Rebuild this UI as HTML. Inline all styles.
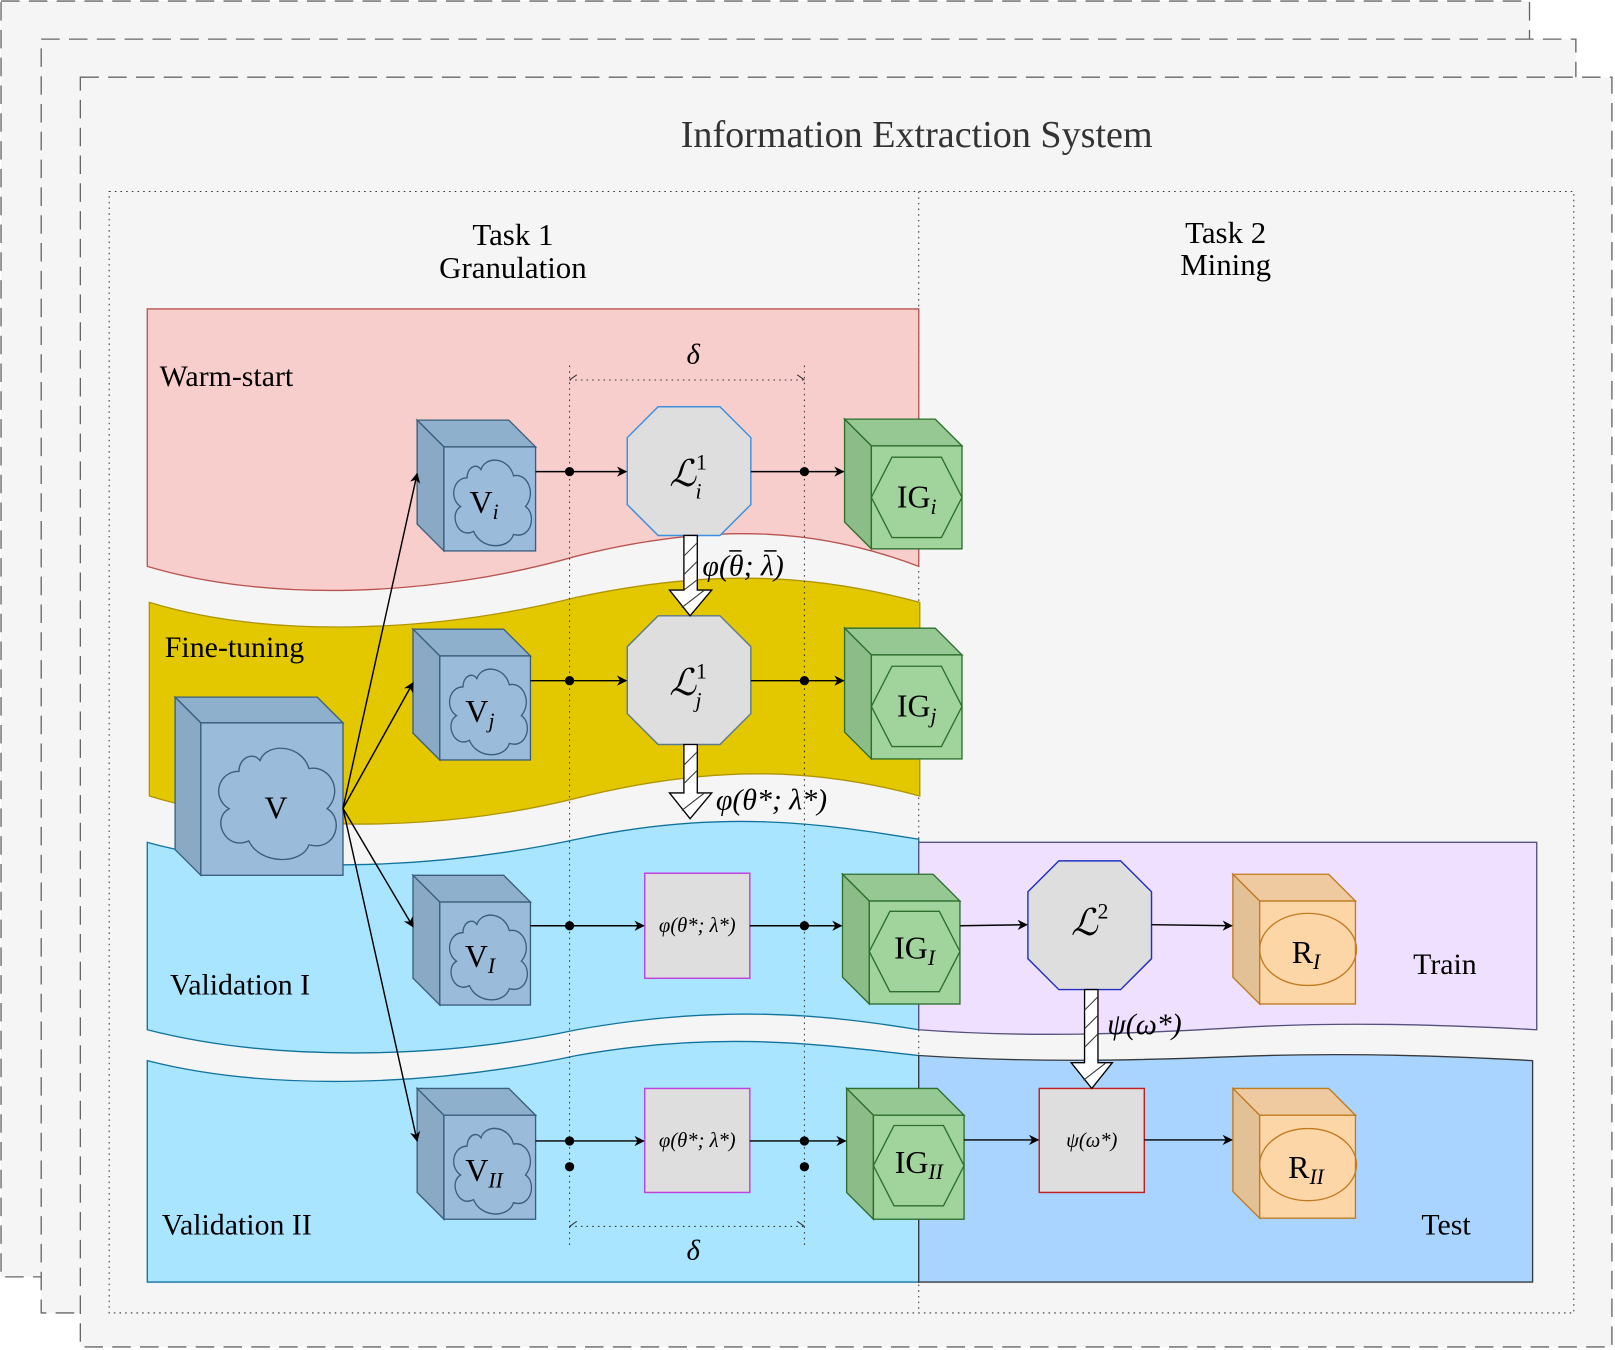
<!DOCTYPE html>
<html><head><meta charset="utf-8"><style>
html,body{margin:0;padding:0;background:#fff}
svg{display:block}
text{font-family:"Liberation Serif","DejaVu Serif",serif;fill:#000}
.m{font-style:italic}
</style></head><body>
<svg width="1615" height="1350" viewBox="0 0 1568 1311" preserveAspectRatio="none" xmlns="http://www.w3.org/2000/svg">
<defs>
<marker id="a" markerWidth="10" markerHeight="10" refX="9" refY="5" orient="auto" markerUnits="userSpaceOnUse">
<path d="M0,0 L10,5 L0,10 L3,5 Z" fill="#000"/></marker>
<path id="cl" d="M25,30 C10,30 5,50 18,58 C5,65 15,90 32,82 C40,100 70,100 75,85 C95,90 100,65 88,58 C100,45 90,25 75,28 C70,10 45,8 40,22 C35,15 25,20 25,30 Z"/>
</defs>
<!-- frames -->
<g fill="#f5f5f5" stroke="#666" stroke-width="1.3" stroke-dasharray="18,9">
<rect x="1" y="1" width="1484" height="1239"/>
<rect x="40" y="38" width="1490" height="1237"/>
<rect x="78" y="75" width="1487" height="1233"/>
</g>
<text x="890" y="143" font-size="37" text-anchor="middle" style="fill:#333">Information Extraction System</text>
<rect x="106" y="186" width="1422" height="1089" fill="none" stroke="#333" stroke-dasharray="1.5,4"/>
<line x1="892" y1="186" x2="892" y2="1275" stroke="#333" stroke-dasharray="1.5,4"/>
<g font-size="30" text-anchor="middle">
<text x="498" y="238">Task 1</text><text x="498" y="270">Granulation</text>
<text x="1190" y="236">Task 2</text><text x="1190" y="267">Mining</text>
</g>
<!-- bands -->
<path d="M143,300 H892 V550 C800,515 700,505 560,540 C420,580 260,585 143,550 Z" fill="#f8cecc" stroke="#b85450" stroke-width="1.3"/>
<path d="M145,585 C260,620 420,615 560,580 C700,550 800,560 893,585 V773 C800,748 700,740 560,775 C420,810 260,808 145,773 Z" fill="#e3c800" stroke="#b09500" stroke-width="1.3"/>
<path d="M143,818 C260,850 420,845 560,815 C700,785 800,800 892,815 V1000 C800,985 700,975 560,1000 C420,1030 260,1030 143,1000 Z" fill="#a9e5ff" stroke="#10739e" stroke-width="1.3"/>
<path d="M892,818 H1492 V1000 C1400,995 1300,992 1200,998 C1100,1004 1000,1008 892,1000 Z" fill="#efe0ff" stroke="#56517e" stroke-width="1.3"/>
<path d="M143,1030 C260,1060 420,1055 560,1025 C700,1000 800,1015 892,1025 V1245 H143 Z" fill="#a9e5ff" stroke="#10739e" stroke-width="1.3"/>
<path d="M892,1025 C1000,1032 1100,1030 1200,1026 C1300,1022 1400,1025 1488,1030 V1245 H892 Z" fill="#a9d4ff" stroke="#36393d" stroke-width="1.3"/>
<g font-size="29">
<text x="155" y="375">Warm-start</text>
<text x="160" y="638">Fine-tuning</text>
<text x="165" y="966">Validation I</text>
<text x="157" y="1199">Validation II</text>
<text x="1372" y="946">Train</text>
<text x="1380" y="1199">Test</text>
</g>
<!-- dotted guides -->
<g stroke="#333" stroke-dasharray="1.5,4" fill="none">
<line x1="553" y1="355" x2="553" y2="1212"/>
<line x1="781" y1="355" x2="781" y2="1212"/>
<line x1="553" y1="369" x2="781" y2="369"/>
<line x1="553" y1="1191" x2="781" y2="1191"/>
</g>
<g stroke="#333" stroke-width="1">
<line x1="553" y1="369" x2="560" y2="364"/><line x1="781" y1="369" x2="774" y2="364"/>
<line x1="553" y1="1191" x2="560" y2="1186"/><line x1="781" y1="1191" x2="774" y2="1186"/>
</g>
<text x="673" y="353" font-size="28" text-anchor="middle" class="m">δ</text>
<text x="673" y="1223" font-size="28" text-anchor="middle" class="m">δ</text>
<!-- blue cubes -->
<g stroke="#3a5f7d" stroke-width="1.3">
<polygon points="405,408 494,408 520,434 431,434" fill="#8eb0cc"/><polygon points="405,408 431,434 431,535 405,509" fill="#89a9c4"/><rect x="431" y="434" width="89" height="101" fill="#9abcda"/>
<polygon points="401,611 489,611 515,637 427,637" fill="#8eb0cc"/><polygon points="401,611 427,637 427,738 401,712" fill="#89a9c4"/><rect x="427" y="637" width="88" height="101" fill="#9abcda"/>
<polygon points="401,850 489,850 515,876 427,876" fill="#8eb0cc"/><polygon points="401,850 427,876 427,976 401,950" fill="#89a9c4"/><rect x="427" y="876" width="88" height="100" fill="#9abcda"/>
<polygon points="405,1057 494,1057 520,1083 431,1083" fill="#8eb0cc"/><polygon points="405,1057 431,1083 431,1184 405,1158" fill="#89a9c4"/><rect x="431" y="1083" width="89" height="101" fill="#9abcda"/>
<polygon points="170,677 308,677 333,702 195,702" fill="#8eb0cc"/><polygon points="170,677 195,702 195,850 170,825" fill="#89a9c4"/><rect x="195" y="702" width="138" height="148" fill="#9abcda"/>
</g>
<g fill="none" stroke="#3a5f7d">
<use href="#cl" transform="translate(431,434) scale(0.9,1.0)" stroke-width="1.4"/>
<use href="#cl" transform="translate(427,637) scale(0.9,1.0)" stroke-width="1.4"/>
<use href="#cl" transform="translate(427,876) scale(0.9,0.99)" stroke-width="1.4"/>
<use href="#cl" transform="translate(431,1083) scale(0.9,1.0)" stroke-width="1.4"/>
<use href="#cl" transform="translate(198,710) scale(1.36,1.3)" stroke-width="1"/>
</g>
<!-- green cubes -->
<g stroke="#2d6e2d" stroke-width="1.3">
<polygon points="820,407 908,407 934,433 846,433" fill="#96c893"/><polygon points="820,407 846,433 846,533 820,507" fill="#8cbd89"/><rect x="846" y="433" width="88" height="100" fill="#a0d49c"/>
<polygon points="846,483 866,444 914,444 934,483 914,522 866,522" fill="none"/>
<polygon points="820,610 908,610 934,636 846,636" fill="#96c893"/><polygon points="820,610 846,636 846,737 820,711" fill="#8cbd89"/><rect x="846" y="636" width="88" height="101" fill="#a0d49c"/>
<polygon points="846,686 866,647 914,647 934,686 914,725 866,725" fill="none"/>
<polygon points="818,849 906,849 932,875 844,875" fill="#96c893"/><polygon points="818,849 844,875 844,975 818,949" fill="#8cbd89"/><rect x="844" y="875" width="88" height="100" fill="#a0d49c"/>
<polygon points="844,924 864,885 912,885 932,924 912,963 864,963" fill="none"/>
<polygon points="822,1057 910,1057 936,1083 848,1083" fill="#96c893"/><polygon points="822,1057 848,1083 848,1184 822,1158" fill="#8cbd89"/><rect x="848" y="1083" width="88" height="101" fill="#a0d49c"/>
<polygon points="848,1132 868,1093 916,1093 936,1132 916,1171 868,1171" fill="none"/>
</g>
<!-- orange cubes -->
<g stroke="#c07a20" stroke-width="1.3">
<polygon points="1197,849 1290,849 1316,875 1223,875" fill="#efcaa0"/><polygon points="1197,849 1223,875 1223,975 1197,949" fill="#e3c196"/><rect x="1223" y="875" width="93" height="100" fill="#fdd6a8"/>
<ellipse cx="1270" cy="922" rx="47" ry="35" fill="none"/>
<polygon points="1197,1057 1290,1057 1316,1083 1223,1083" fill="#efcaa0"/><polygon points="1197,1057 1223,1083 1223,1183 1197,1157" fill="#e3c196"/><rect x="1223" y="1083" width="93" height="100" fill="#fdd6a8"/>
<ellipse cx="1270" cy="1131" rx="47" ry="35" fill="none"/>
</g>
<!-- octagons & boxes -->
<polygon points="639,395 699,395 729,425 729,490 699,520 639,520 609,490 609,425" fill="#dedede" stroke="#3d8fe0" stroke-width="1.4"/>
<polygon points="639,598 699,598 729,628 729,693 699,723 639,723 609,693 609,628" fill="#dedede" stroke="#5d7a90" stroke-width="1.4"/>
<polygon points="1028,836 1088,836 1118,866 1118,931 1088,961 1028,961 998,931 998,866" fill="#dedede" stroke="#2030c0" stroke-width="1.4"/>
<rect x="626" y="848" width="102" height="102" fill="#dedede" stroke="#c040e0" stroke-width="1.4"/>
<rect x="626" y="1057" width="102" height="101" fill="#dedede" stroke="#c040e0" stroke-width="1.4"/>
<rect x="1009" y="1057" width="102" height="101" fill="#dedede" stroke="#c02020" stroke-width="1.4"/>
<!-- connectors -->
<g stroke="#000" stroke-width="1.4" fill="none" marker-end="url(#a)">
<line x1="520" y1="458" x2="608" y2="458"/>
<line x1="729" y1="458" x2="819" y2="458"/>
<line x1="515" y1="661" x2="608" y2="661"/>
<line x1="729" y1="661" x2="819" y2="661"/>
<line x1="515" y1="899" x2="625" y2="899"/>
<line x1="728" y1="899" x2="817" y2="899"/>
<line x1="520" y1="1108" x2="625" y2="1108"/>
<line x1="728" y1="1108" x2="821" y2="1108"/>
<line x1="932" y1="899" x2="997" y2="898"/>
<line x1="1118" y1="898" x2="1196" y2="899"/>
<line x1="936" y1="1107" x2="1008" y2="1107"/>
<line x1="1111" y1="1107" x2="1196" y2="1107"/>
<line x1="333" y1="785" x2="405" y2="460"/>
<line x1="333" y1="785" x2="401" y2="663"/>
<line x1="333" y1="785" x2="401" y2="900"/>
<line x1="333" y1="785" x2="405" y2="1108"/>
</g>
<g fill="#000">
<circle cx="553" cy="458" r="4.5"/><circle cx="781" cy="458" r="4.5"/>
<circle cx="553" cy="661" r="4.5"/><circle cx="781" cy="661" r="4.5"/>
<circle cx="553" cy="899" r="4.5"/><circle cx="781" cy="899" r="4.5"/>
<circle cx="553" cy="1108" r="4.5"/><circle cx="781" cy="1108" r="4.5"/>
<circle cx="553" cy="1133" r="4.5"/><circle cx="781" cy="1133" r="4.5"/>
</g>
<!-- block arrows -->
<g fill="#fff" stroke="#000" stroke-width="1.3">
<polygon points="664,520 677,520 677,573 691,573 670,598 650,573 664,573"/>
<polygon points="664,723 677,723 677,770 691,770 670,795 650,770 664,770"/>
<polygon points="1053,961 1066,961 1066,1032 1080,1032 1060,1057 1040,1032 1053,1032"/>
</g>
<g stroke="#333" stroke-width="1">
<line x1="664" y1="540" x2="677" y2="527"/><line x1="664" y1="558" x2="677" y2="545"/><line x1="664" y1="573" x2="677" y2="563"/><line x1="662" y1="590" x2="684" y2="573"/>
<line x1="664" y1="743" x2="677" y2="730"/><line x1="664" y1="761" x2="677" y2="748"/><line x1="662" y1="787" x2="684" y2="770"/>
<line x1="1053" y1="981" x2="1066" y2="968"/><line x1="1053" y1="999" x2="1066" y2="986"/><line x1="1053" y1="1017" x2="1066" y2="1004"/><line x1="1052" y1="1049" x2="1074" y2="1032"/>
</g>
<!-- labels -->
<g font-size="31" text-anchor="middle">
<text x="268" y="795">V</text>
<text x="470" y="498">V<tspan class="m" font-size="21" dy="6">i</tspan></text>
<text x="466" y="701">V<tspan class="m" font-size="21" dy="6">j</tspan></text>
<text x="466" y="939">V<tspan class="m" font-size="21" dy="6">I</tspan></text>
<text x="470" y="1147">V<tspan class="m" font-size="21" dy="6">II</tspan></text>
<text x="890" y="493">IG<tspan class="m" font-size="21" dy="6">i</tspan></text>
<text x="890" y="696">IG<tspan class="m" font-size="21" dy="6">j</tspan></text>
<text x="888" y="931">IG<tspan class="m" font-size="21" dy="6">I</tspan></text>
<text x="892" y="1139">IG<tspan class="m" font-size="21" dy="6">II</tspan></text>
<text x="1268" y="935">R<tspan class="m" font-size="21" dy="6">I</tspan></text>
<text x="1268" y="1144">R<tspan class="m" font-size="21" dy="6">II</tspan></text>
</g>
<g font-size="36" text-anchor="middle">
<text x="668" y="472" class="m">ℒ<tspan font-size="21" dy="-16" font-style="normal">1</tspan><tspan font-size="21" dx="-11" dy="28">i</tspan></text>
<text x="668" y="675" class="m">ℒ<tspan font-size="21" dy="-16" font-style="normal">1</tspan><tspan font-size="21" dx="-11" dy="28">j</tspan></text>
<text x="1058" y="908" class="m">ℒ<tspan font-size="21" dy="-16" font-style="normal">2</tspan></text>
</g>
<g font-size="20" text-anchor="middle" class="m">
<text x="677" y="905">φ(θ*; λ*)</text>
<text x="677" y="1114">φ(θ*; λ*)</text>
<text x="1060" y="1114">ψ(ω*)</text>
</g>
<g font-size="29" class="m">
<text x="682" y="559">φ(θ; λ)</text>
<text x="695" y="786">φ(θ*; λ*)</text>
<text x="1075" y="1004">ψ(ω*)</text>
</g>
<g stroke="#000" stroke-width="1.5">
<line x1="708" y1="535" x2="720" y2="535"/>
<line x1="742" y1="535" x2="754" y2="535"/>
</g>
</svg>
</body></html>
